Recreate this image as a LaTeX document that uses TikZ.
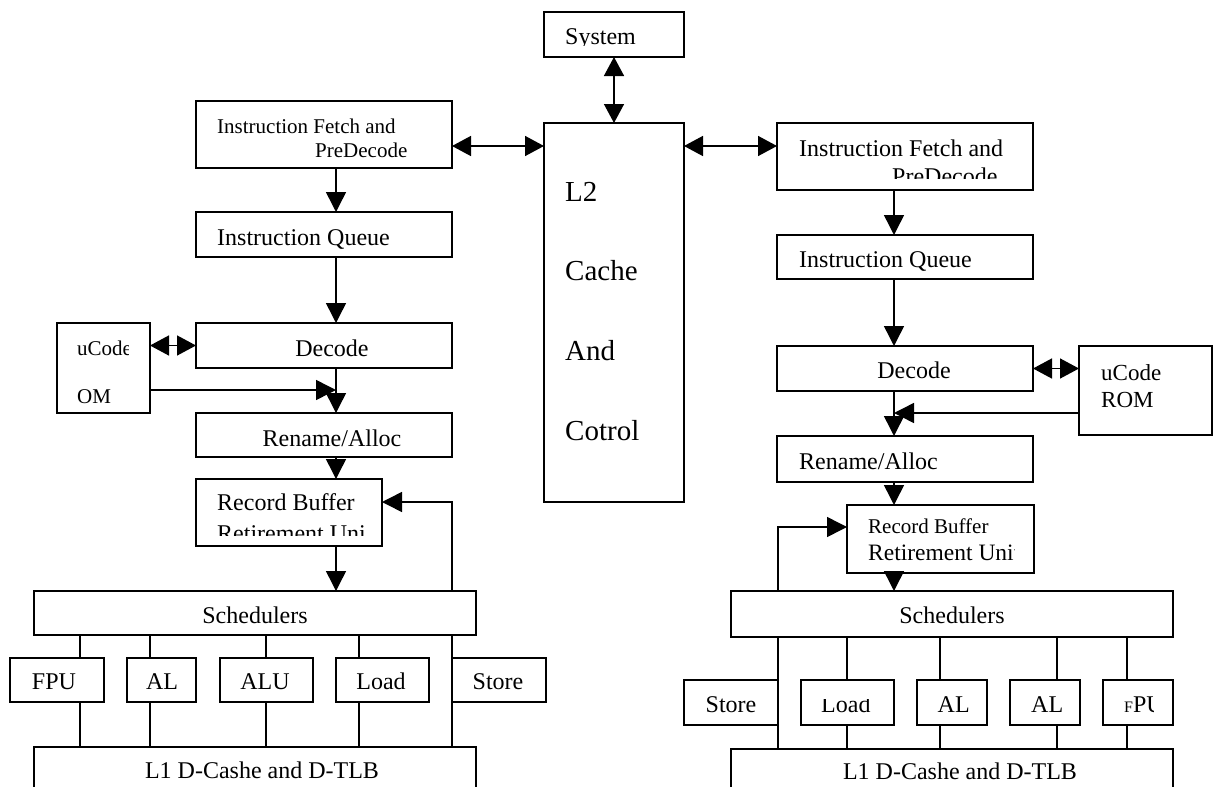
\documentclass[tikz,border=0pt]{standalone}
\usepackage{fontspec}
\setmainfont{Liberation Serif}
\usetikzlibrary{arrows.meta}

\tikzset{
  box/.style={draw, line width=1.8pt, inner sep=0pt, outer sep=0pt},
  lbl/.style={inner sep=0pt, anchor=base west, font=\fontsize{24}{28}\selectfont},
  clbl/.style={lbl, anchor=base},
  conn/.style={line width=1.5pt},
  arr/.style={conn, -{Triangle[length=20pt,width=20pt]}},
  darr/.style={conn, {Triangle[length=19pt,width=20pt]}-{Triangle[length=19pt,width=20pt]}},
}
% \blk{name}{x1}{y1}{x2}{y2}: an empty framed block spanning the given corners
\newcommand\blk[5]{\node[box, minimum width={#4-#2}, minimum height={#5-#3}] (#1) at ({(#2+#4)/2},{(#3+#5)/2}) {};}

\begin{document}
\begin{tikzpicture}[x=1pt,y=-1pt]
\useasboundingbox (0,0) rectangle (1213,787);
\clip (0,0) rectangle (1213,787);

% ---------- guide coordinates ----------
\coordinate (lax) at (336,0);
\coordinate (rax) at (894,0);
\coordinate (busrow) at (0,146);
\coordinate (lomrow) at (0,390);
\coordinate (lfbrow) at (0,502);
\coordinate (rromrow) at (0,413);
\coordinate (rfbrow) at (0,527);
\coordinate (lx1) at (80,0);
\coordinate (lx2) at (150,0);
\coordinate (lx3) at (266,0);
\coordinate (lx4) at (359,0);
\coordinate (rx1) at (847,0);
\coordinate (rx2) at (940,0);
\coordinate (rx3) at (1057,0);
\coordinate (rx4) at (1127,0);

% ---------- left core ----------
\blk{lif}{196}{101}{452}{168}
\blk{liq}{196}{212}{452}{257}
\blk{luc}{57}{323}{150}{413}
\blk{ldec}{196}{323}{452}{368}
\blk{lren}{196}{413}{452}{457}
\blk{lrob}{196}{479}{382}{546}
\blk{lsch}{34}{591}{476}{635}
\blk{lfpu}{10}{658}{104}{702}
\blk{lal}{127}{658}{196}{702}
\blk{lalu}{220}{658}{313}{702}
\blk{lld}{336}{658}{429}{702}
\blk{lst}{452}{658}{546}{702}
\blk{ll1}{34}{747}{476}{812}

% ---------- shared ----------
\blk{sys}{544}{12}{684}{57}
\blk{l2}{544}{123}{684}{502}

% ---------- right core ----------
\blk{rif}{777}{123}{1033}{190}
\blk{riq}{777}{235}{1033}{279}
\blk{rdec}{777}{346}{1033}{391}
\blk{ruc}{1079}{346}{1212}{435}
\blk{rren}{777}{436}{1033}{482}
\blk{rrob}{847}{505}{1034}{573}
\blk{rsch}{731}{591}{1173}{637}
\blk{rst}{684}{680}{778}{725}
\blk{rld}{801}{680}{894}{725}
\blk{ral1}{917}{680}{987}{725}
\blk{ral2}{1010}{680}{1080}{725}
\blk{rfpu}{1103}{680}{1173}{725}
\blk{rl1}{731}{749}{1173}{812}

% ---------- connectors: shared ----------
\draw[darr] (sys.south) -- (l2.north);
\draw[darr] (lif.east |- busrow) -- (l2.west |- busrow);
\draw[darr] (l2.east |- busrow) -- (rif.west |- busrow);

% ---------- connectors: left ----------
\draw[arr] (lif.south -| lax) -- (liq.north -| lax);
\draw[arr] (liq.south -| lax) -- (ldec.north -| lax);
\draw[darr] (luc.east |- ldec.center) -- (ldec.west);
\draw[arr] (ldec.south -| lax) -- (lren.north -| lax);
\draw[arr] (luc.east |- lomrow) -- (lax |- lomrow);
\draw[arr] (lren.south -| lax) -- (lrob.north -| lax);
\draw[arr] (lrob.south -| lax) -- (lsch.north -| lax);
\draw[arr] (lsch.north -| lst.west) |- (lrob.east |- lfbrow);
\draw[conn] (lsch.south -| lst.west) -- (ll1.north -| lst.west);
\draw[conn] (lsch.south -| lx1) -- (lfpu.north -| lx1);
\draw[conn] (lfpu.south -| lx1) -- (ll1.north -| lx1);
\draw[conn] (lsch.south -| lx2) -- (lal.north -| lx2);
\draw[conn] (lal.south -| lx2) -- (ll1.north -| lx2);
\draw[conn] (lsch.south -| lx3) -- (lalu.north -| lx3);
\draw[conn] (lalu.south -| lx3) -- (ll1.north -| lx3);
\draw[conn] (lsch.south -| lx4) -- (lld.north -| lx4);
\draw[conn] (lld.south -| lx4) -- (ll1.north -| lx4);

% ---------- connectors: right ----------
\draw[arr] (rif.south -| rax) -- (riq.north -| rax);
\draw[arr] (riq.south -| rax) -- (rdec.north -| rax);
\draw[darr] (rdec.east) -- (ruc.west |- rdec.east);
\draw[arr] (rdec.south -| rax) -- (rren.north -| rax);
\draw[arr] (ruc.west |- rromrow) -- (rax |- rromrow);
\draw[arr] (rren.south -| rax) -- (rrob.north -| rax);
\draw[arr] (rrob.south -| rax) -- (rsch.north -| rax);
\draw[arr] (rsch.north -| rst.east) |- (rrob.west |- rfbrow);
\draw[conn] (rsch.south -| rst.east) -- (rl1.north -| rst.east);
\draw[conn] (rsch.south -| rx1) -- (rld.north -| rx1);
\draw[conn] (rld.south -| rx1) -- (rl1.north -| rx1);
\draw[conn] (rsch.south -| rx2) -- (ral1.north -| rx2);
\draw[conn] (ral1.south -| rx2) -- (rl1.north -| rx2);
\draw[conn] (rsch.south -| rx3) -- (ral2.north -| rx3);
\draw[conn] (ral2.south -| rx3) -- (rl1.north -| rx3);
\draw[conn] (rsch.south -| rx4) -- (rfpu.north -| rx4);
\draw[conn] (rfpu.south -| rx4) -- (rl1.north -| rx4);

% ---------- labels: shared ----------
\begin{scope}
  \clip (546,14) rectangle (682,45.5);
  \node[lbl] (sys-t) at (565,44) {System};
\end{scope}
\node[lbl, font=\fontsize{29}{34}\selectfont] (l2-a) at (565,201) {L2};
\node[lbl, font=\fontsize{29}{34}\selectfont] (l2-b) at (565,280) {Cache};
\node[lbl, font=\fontsize{29}{34}\selectfont] (l2-c) at (565,360) {And};
\node[lbl, font=\fontsize{29}{34}\selectfont] (l2-d) at (565,440) {Cotrol};

% ---------- labels: left ----------
\node[lbl, font=\fontsize{21}{25}\selectfont] (lif-a) at (217,133) {Instruction Fetch and};
\node[lbl, font=\fontsize{21}{25}\selectfont] (lif-b) at (315,157) {PreDecode};
\node[lbl] (liq-t) at (217,245) {Instruction Queue};
\begin{scope}
  \clip (60,326) rectangle (128,410);
  \node[lbl, font=\fontsize{21}{25}\selectfont] (luc-a) at (77,355) {uCode};
\end{scope}
\node[lbl, font=\fontsize{21}{25}\selectfont] (luc-b) at (77,403) {OM};
\node[clbl] (ldec-t) at (332,356) {Decode};
\node[clbl] (lren-t) at (332,446) {Rename/Alloc};
\node[lbl] (lrob-a) at (217,510) {Record Buffer};
\begin{scope}
  \clip (199,482) rectangle (364,535);
  \node[lbl] (lrob-b) at (217,541) {Retirement Unit};
\end{scope}
\node[clbl] (lsch-t) at (255,623) {Schedulers};
\node[clbl] (lfpu-t) at (54,689) {FPU};
\node[clbl] (lal-t) at (162,689) {AL};
\node[clbl] (lalu-t) at (265,689) {ALU};
\node[clbl] (lld-t) at (381,689) {Load};
\node[clbl] (lst-t) at (498,689) {Store};
\node[clbl] (ll1-t) at (262,778) {L1 D-Cashe and D-TLB};

% ---------- labels: right ----------
\node[lbl] (rif-a) at (799,156) {Instruction Fetch and};
\begin{scope}
  \clip (780,126) rectangle (1030,178);
  \node[lbl] (rif-b) at (892,184) {PreDecode};
\end{scope}
\node[lbl] (riq-t) at (799,267) {Instruction Queue};
\node[clbl] (rdec-t) at (914,378) {Decode};
\node[lbl, font=\fontsize{23}{27}\selectfont] (ruc-a) at (1101,380) {uCode};
\node[lbl, font=\fontsize{23}{27}\selectfont] (ruc-b) at (1101,407) {ROM};
\node[lbl] (rren-t) at (799,469) {Rename/Alloc};
\node[lbl, font=\fontsize{21}{25}\selectfont] (rrob-a) at (868,533) {Record Buffer};
\begin{scope}
  \clip (850,508) rectangle (1014,570);
  \node[lbl, font=\fontsize{23.5}{27}\selectfont] (rrob-b) at (868,560) {Retirement Unit};
\end{scope}
\node[clbl] (rsch-t) at (952,623) {Schedulers};
\begin{scope}
  \clip (687,683) rectangle (758,722);
  \node[lbl] (rst-t) at (705.5,712) {Store};
\end{scope}
\begin{scope}
  \clip (804,699) rectangle (891,722);
  \node[lbl] (rld-t) at (821,712) {Load};
\end{scope}
\node[lbl] (ral1-t) at (937.5,712) {AL};
\node[lbl] (ral2-t) at (1031,712) {AL};
\begin{scope}
  \clip (1106,683) rectangle (1153,722);
  \node[lbl] (rfpu-t) at (1124,712) {{\fontsize{16}{19}\selectfont F}PU};
\end{scope}
\node[clbl] (rl1-t) at (960,779) {L1 D-Cashe and D-TLB};
\end{tikzpicture}
\end{document}
